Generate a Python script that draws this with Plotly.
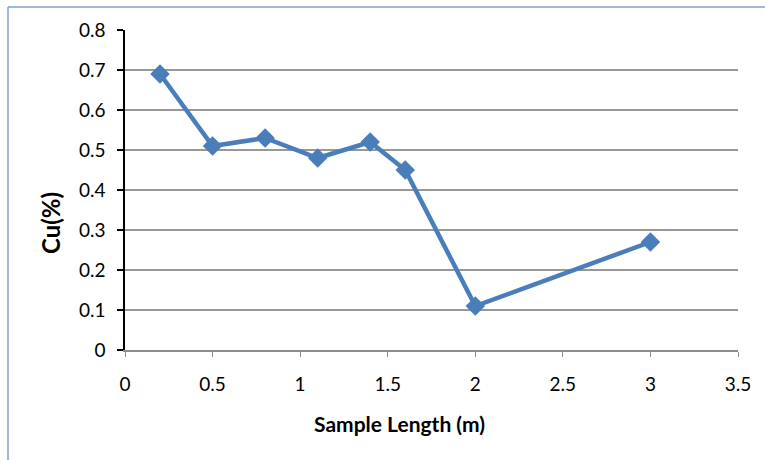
import plotly.graph_objects as go

sample_length = [0.2, 0.5, 0.8, 1.1, 1.4, 1.6, 2.0, 3.0]
cu_pct = [0.69, 0.51, 0.53, 0.48, 0.52, 0.45, 0.11, 0.27]
x_ticks = [0, 0.5, 1, 1.5, 2, 2.5, 3, 3.5]
x_tick_labels = ["0", "0.5", "1", "1.5", "2", "2.5", "3", "3.5"]
y_ticks = [0, 0.1, 0.2, 0.3, 0.4, 0.5, 0.6, 0.7, 0.8]
y_tick_labels = ["0", "0.1", "0.2", "0.3", "0.4", "0.5", "0.6", "0.7", "0.8"]
x_title = "Sample Length (m)"
y_title = "Cu(%)"

W, H = 765, 460
ml, mr, mt, mb = 125, 27, 30, 110
pw, ph = W - ml - mr, H - mt - mb

fig = go.Figure(go.Scatter(
    x=sample_length, y=cu_pct, mode="lines+markers",
    line=dict(color="#4a7ebb", width=4.5),
    marker=dict(symbol="diamond", size=15, color="#4a7ebb"),
))

font = "Lato, Calibri, Carlito, sans-serif"
fig.update_layout(
    width=W, height=H, margin=dict(l=ml, r=mr, t=mt, b=mb),
    paper_bgcolor="white", plot_bgcolor="white", showlegend=False,
    font=dict(family=font, size=19, color="black"),
    xaxis=dict(range=[0, 3.5], tickvals=x_ticks, ticktext=x_tick_labels,
               showgrid=False, zeroline=False, showline=True, linecolor="#8c8c8c", linewidth=1.5,
               ticks="outside", ticklen=5, tickcolor="#8c8c8c", tickwidth=1,
               ticklabelstandoff=11),
    yaxis=dict(range=[0, 0.8], tickvals=y_ticks, ticktext=y_tick_labels,
               showgrid=True, gridcolor="#989898", gridwidth=1.5, zeroline=False,
               showline=True, linecolor="black", linewidth=1.5,
               ticks="outside", ticklen=6, tickcolor="black", tickwidth=1.5,
               ticklabelstandoff=8),
)

def px_x(p):
    return (p - ml) / pw

def px_y(p):
    return (H - mb - p) / ph

fig.add_annotation(text="<b>" + x_title + "</b>", xref="paper", yref="paper",
                   x=px_x(399), y=px_y(423), xanchor="center", yanchor="middle",
                   showarrow=False, font=dict(size=21))
fig.add_annotation(text="<b>" + y_title + "</b>", xref="paper", yref="paper",
                   x=px_x(50), y=px_y(223), xanchor="center", yanchor="middle",
                   textangle=-90, showarrow=False, font=dict(size=24))

frame_color = "#7fa1d0"
fig.add_shape(type="line", xref="paper", yref="paper",
              x0=px_x(8), x1=px_x(780), y0=px_y(7), y1=px_y(7),
              line=dict(color=frame_color, width=1.5))
fig.add_shape(type="line", xref="paper", yref="paper",
              x0=px_x(8), x1=px_x(8), y0=px_y(7), y1=px_y(480),
              line=dict(color=frame_color, width=1.5))

fig.write_html("out.html")
